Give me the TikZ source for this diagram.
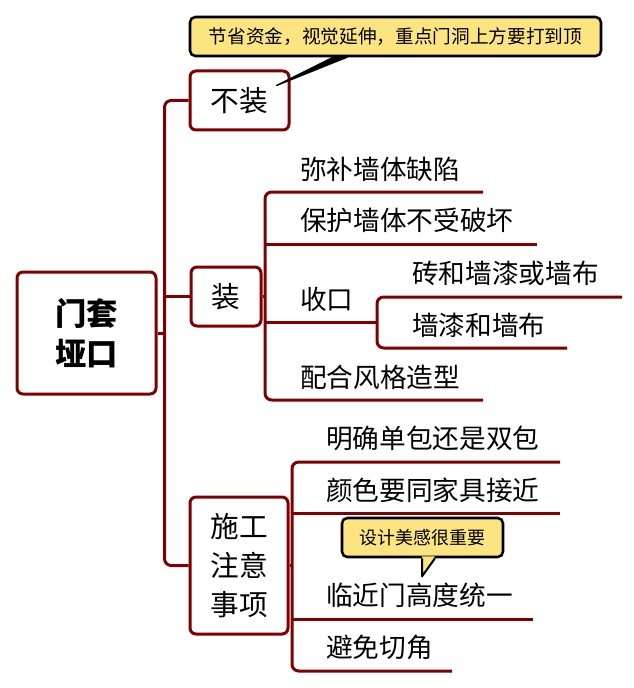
\documentclass[tikz,border=0pt]{standalone}
\usepackage{fontspec}
\setmainfont{Noto Sans CJK SC}
\usetikzlibrary{calc}
\definecolor{mr}{RGB}{128,0,0}
\definecolor{ny}{RGB}{252,228,128}
\begin{document}
\begin{tikzpicture}[x=0.75pt,y=-0.75pt,
  branch/.style={draw=mr, line width=2.25pt, rounded corners=5pt},
  topic/.style={draw=mr, line width=2.25pt, rounded corners=4.5pt, fill=white, inner sep=0pt, align=center},
  leaf/.style={anchor=west, inner sep=0pt, font=\fontsize{20pt}{24pt}\selectfont},
  note/.style={draw=black, fill=ny, line width=1.9pt, rounded corners=4pt, inner sep=0pt},
  pointer/.style={draw=black, line width=1.5pt, line join=round},
]
\useasboundingbox (0,0) rectangle (633,688);

% main topics
\node[topic, minimum width=104.25pt, minimum height=91.5pt,
      font=\fontsize{23.5pt}{30pt}\selectfont\bfseries] (root) at (86.5,333) {门套\\垭口};
\node[topic, minimum width=74.25pt, minimum height=44.25pt,
      font=\fontsize{21.5pt}{26pt}\selectfont] (buzhuang) at (239.5,100.5) {不装};
\node[topic, minimum width=52.5pt, minimum height=44.25pt,
      font=\fontsize{21.5pt}{26pt}\selectfont] (zhuang) at (226,296.5) {装};
\node[topic, minimum width=73.5pt, minimum height=102.75pt,
      font=\fontsize{21.5pt}{29pt}\selectfont] (shigong) at (239,565.5) {施工\\注意\\事项};

% trunk
\coordinate (tt) at ($(buzhuang.west)+(-24,0)$);
\draw[branch] (buzhuang.west) -- (tt) |- (shigong.west);
\draw[branch] (root.east) -- (root.east -| tt);
\draw[branch] (zhuang.west) -- (zhuang.west -| tt);

% branch of 装
\coordinate (u1) at (265,192); \coordinate (u1e) at (483,192);
\coordinate (u2) at (265,244); \coordinate (u2e) at (537,244);
\coordinate (u3) at (265,322);
\coordinate (u4) at (265,400); \coordinate (u4e) at (483,400);
\coordinate (s1) at (377,297); \coordinate (s1e) at (622,297);
\coordinate (s2) at (377,348); \coordinate (s2e) at (567,348);
\draw[branch] (zhuang.east) -- (zhuang.east -| u1);
\draw[branch] (u1e) -- (u1) -- (u4) -- (u4e);
\draw[branch] (u2) -- (u2e);
\draw[branch] (u3) -- (u3 -| s1);
\draw[branch] (s1e) -- (s1) -- (s2) -- (s2e);

\node[leaf] (t1) at (300,169) {弥补墙体缺陷};
\node[leaf] (t2) at (300,220) {保护墙体不受破坏};
\node[leaf] (t3) at (300,299) {收口};
\node[leaf] (t4) at (300,377) {配合风格造型};
\node[leaf] (t5) at (412,273) {砖和墙漆或墙布};
\node[leaf] (t6) at (412,325) {墙漆和墙布};

% branch of 施工注意事项
\coordinate (w1) at (292,462); \coordinate (w1e) at (560,462);
\coordinate (w2) at (292,513); \coordinate (w2e) at (560,513);
\coordinate (w3) at (292,619); \coordinate (w3e) at (533,619);
\coordinate (w4) at (292,671); \coordinate (w4e) at (452,671);
\draw[branch] (shigong.east) -- (shigong.east -| w1);
\draw[branch] (w1e) -- (w1) -- (w4) -- (w4e);
\draw[branch] (w2) -- (w2e);
\draw[branch] (w3) -- (w3e);

\node[leaf] (x1) at (326,438) {明确单包还是双包};
\node[leaf] (x2) at (326,490) {颜色要同家具接近};
\node[leaf] (x3) at (326,595) {临近门高度统一};
\node[leaf] (x4) at (326,647) {避免切角};

% callouts
\node[note, minimum width=308.25pt, minimum height=29.25pt,
      font=\fontsize{14pt}{16pt}\selectfont] (note1) at (395.5,36.5) {节省资金，视觉延伸，重点门洞上方要打到顶};
\coordinate (p1a) at ($(note1.south)+(-62.5,0)$);
\coordinate (p1b) at ($(note1.south)+(-48.5,0)$);
\coordinate (p1t) at ($(buzhuang.north east)+(-14,16)$);
\filldraw[black, line width=1pt, line join=round] (p1a) -- (p1t) -- (p1b) -- cycle;

\node[note, minimum width=120.75pt, minimum height=29.25pt,
      font=\fontsize{13.5pt}{16pt}\selectfont] (note2) at (422.5,537.5) {设计美感很重要};
\coordinate (p2a) at ($(note2.south)+(-0.5,0)$);
\coordinate (p2b) at ($(note2.south)+(12.5,0)$);
\coordinate (p2t) at ($(x3.north west)+(96,-6)$);
\fill[ny] ($(p2a)+(0,-2)$) -- ($(p2b)+(0,-2)$) -- (p2t) -- cycle;
\draw[pointer] (p2b) -- (p2t) -- (p2a);
\end{tikzpicture}
\end{document}
